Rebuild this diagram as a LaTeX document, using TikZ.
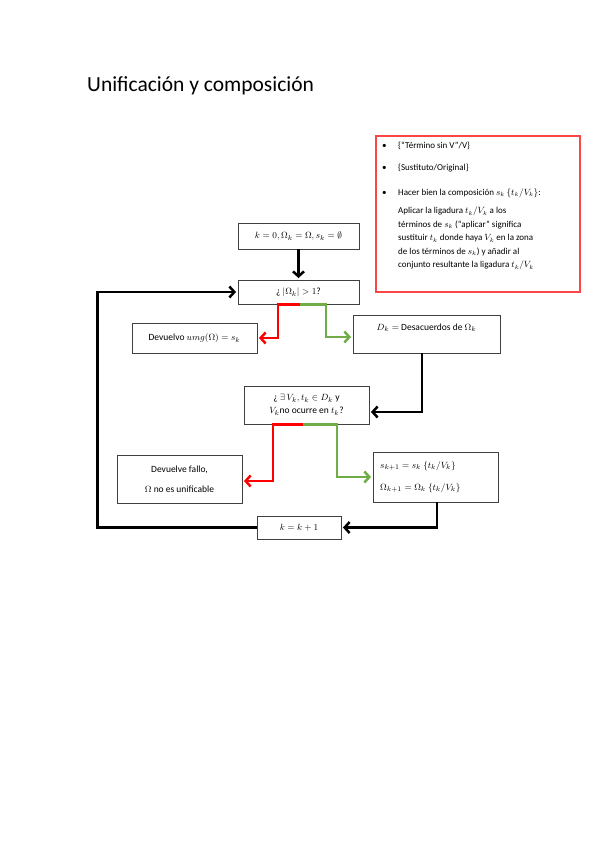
\documentclass[tikz,border=0pt]{standalone}
\usepackage{fontspec}
\usepackage{amssymb}
\setmainfont{Carlito}
\newfontfamily\titlefont{Carlito}
\usetikzlibrary{arrows.meta}
\definecolor{yesgreen}{RGB}{112,173,71}
\definecolor{nored}{RGB}{255,0,0}
\definecolor{noteline}{RGB}{250,70,70}
\begin{document}
\begin{tikzpicture}[x=1pt,y=-1pt,
  box/.style={draw=black!75, line width=0.9pt, rectangle, inner sep=0pt,
    font=\fontsize{9.5}{11}\selectfont},
  txt/.style={inner sep=0pt, font=\fontsize{9.5}{11}\selectfont},
  ntxt/.style={inner sep=0pt, font=\fontsize{9}{11}\selectfont},
  flow/.style={line width=2.5pt, -{Straight Barb[length=5pt,width=11pt]}, shorten >=1.5pt},
  blackflow/.style={flow, draw=black},
  noflow/.style={flow, draw=nored},
  yesflow/.style={flow, draw=yesgreen},
  notebox/.style={draw=noteline, line width=1.5pt}
]
\useasboundingbox[fill=white] (0,0) rectangle (600,848);

% title
\node[anchor=base west, inner sep=0pt, font=\titlefont\fontsize{21.5}{24}\selectfont] (title) at (87,92) {Unificación y composición};

% note box
\node[notebox, minimum width=204pt, minimum height=156pt, anchor=north west] (note) at (375,135) {};
\node[ntxt, anchor=base west] (n1b) at (382,148) {•};
\node[ntxt, anchor=base west] (n1) at (398,148) {\{“Término sin V”/V\}};
\node[ntxt, anchor=base west] (n2b) at (382,170) {•};
\node[ntxt, anchor=base west] (n2) at (398,170) {\{Sustituto/Original\}};
\node[ntxt, anchor=base west] (n3b) at (382,195) {•};
\node[ntxt, anchor=base west] (n3) at (398,195) {Hacer bien la composición $s_k\,\{t_k/V_k\}$:};
\node[ntxt, anchor=north west, align=left, font=\fontsize{9}{13.5}\selectfont] (n4) at (398,207)
  {Aplicar la ligadura $t_k/V_k$ a los\\
   términos de $s_k$ (“aplicar” significa\\
   sustituir $t_k$ donde haya $V_k$ en la zona\\
   de los términos de $s_k$) y añadir al\\
   conjunto resultante la ligadura $t_k/V_k$};

% flow boxes
\node[box, minimum width=121pt, minimum height=26pt] (b1) at (298.5,236) {$k=0, \Omega_k=\Omega, s_k=\emptyset$};
\node[box, minimum width=121pt, minimum height=24pt] (b2) at (298.5,292) {¿ $|\Omega_k|>1$?};
\node[box, minimum width=125pt, minimum height=30pt] (b3) at (194.5,338) {Devuelvo $umg(\Omega)=s_k$};
\node[box, minimum width=147pt, minimum height=38pt] (b4) at (426.5,334) {};
\node[txt, anchor=base] (b4t) at (426.5,330) {$D_k=$ Desacuerdos de $\Omega_k$};
\node[box, minimum width=125pt, minimum height=38pt, align=center,
  font=\fontsize{9.5}{13}\selectfont] (b5) at (306.5,405) {¿ $\exists\, V_k, t_k \in D_k$ y\\ $V_k$no ocurre en $t_k$?};
\node[box, minimum width=125pt, minimum height=48pt, align=center,
  font=\fontsize{9.5}{20}\selectfont] (b6) at (179.5,479) {Devuelve fallo,\\ $\Omega$ no es unificable};
\node[box, minimum width=125pt, minimum height=50pt] (b7) at (435.5,477) {};
\node[txt, anchor=base west] (b7a) at (380,468) {$s_{k+1}=s_k\ \{t_k/V_k\}$};
\node[txt, anchor=base west] (b7b) at (380,490) {$\Omega_{k+1}=\Omega_k\ \{t_k/V_k\}$};
\node[box, minimum width=84pt, minimum height=23pt] (b8) at (299,527.5) {$k=k+1$};

% connectors
\draw[blackflow] (b1.south) -- (b2.north);
\draw[noflow] ([xshift=1.5pt]b2.south) -- ++(-22,0) |- (b3.east);
\draw[yesflow] ([xshift=1.5pt]b2.south) -- ++(26,0) |- ([yshift=-3pt]b4.west);
\draw[blackflow] ([xshift=-4.5pt]b4.south) |- ([yshift=-7pt]b5.east);
\draw[noflow] ([xshift=-3.5pt]b5.south) -- ++(-30,0) |- ([yshift=-2pt]b6.east);
\draw[yesflow] ([xshift=-3.5pt]b5.south) -- ++(34,0) |- (b7.west);
\draw[blackflow] ([xshift=1.5pt]b7.south) |- (b8.east);
\draw[blackflow] (b8.west) -- ++(-159,0) |- (b2.west);
\end{tikzpicture}
\end{document}
